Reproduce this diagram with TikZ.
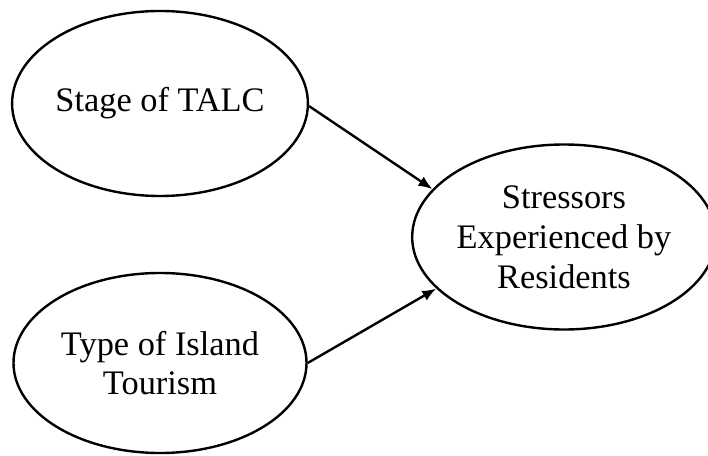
\documentclass[tikz,border=0pt]{standalone}
\usepackage{fontspec}
\setmainfont{Liberation Serif}
\usepackage{tikz}
\usetikzlibrary{arrows.meta,shapes.geometric}

\begin{document}
\begin{tikzpicture}[x=1bp,y=1bp]
% Node styles ---
\tikzstyle{fac} = [ellipse, line width = 2.4bp, inner sep = 0pt, draw = black, fill = white, align = center, font = \fontsize{34.5}{40}\selectfont] % Factors
% Edge styles
\tikzstyle{con} = [-{Latex[length=14bp,width=11bp]}, line width = 2.4bp] % Effects
% Begin Figure ---
\useasboundingbox (0,0) rectangle (708,-456);
% Nodes
\node at (+160,-103.5) [fac, minimum width = 293bp, minimum height = 185bp] (talc) {Stage of TALC};
\node at (+160,-363) [fac, minimum width = 293bp, minimum height = 180bp] (type) {Type of Island\\Tourism};
\node at (+564,-237) [fac, minimum width = 284bp, minimum height = 185bp] (stress) {Stressors\\Experienced by\\Residents};
% Paths
\path (talc.-1) edge [con] (stress.160);
\path (type.0) edge [con] (stress.202);
\end{tikzpicture}
\end{document}
